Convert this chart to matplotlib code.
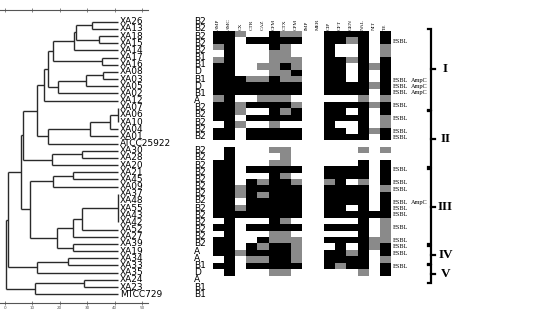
import matplotlib.pyplot as plt
from matplotlib.colors import ListedColormap

# strains in dendrogram order
leaves = ['XA26', 'XA13', 'XA18', 'XA15', 'XA14', 'XA17', 'XA16', 'XA08', 'XA03',
          'XA05', 'XA02', 'XA12', 'XA07', 'XA06', 'XA10', 'XA04', 'XA01', 'ATCC25922',
          'XA30', 'XA28', 'XA20', 'XA21', 'XA45', 'XA09', 'XA37', 'XA48', 'XA55',
          'XA43', 'XA42', 'XA52', 'XA27', 'XA39', 'XA19', 'XA34', 'XA33', 'XA35',
          'XA24', 'XA23', 'MTCC729']
phylogroups = ['B2', 'B2', 'B2', 'B2', 'B2', 'B1', 'B1', 'D', 'B1', 'D', 'B1', 'A',
               'B2', 'B2', 'B2', 'B2', 'B2', '', 'B2', 'B2', 'B2', 'B2', 'B2', 'B2',
               'B2', 'B2', 'B2', 'B2', 'B2', 'B2', 'B2', 'B2', 'A', 'A', 'B1', 'D',
               'A', 'B1', 'B1']
drugs = ['AMP', 'AMC', 'CX', 'CTR', 'CAZ', 'CFM', 'CTX', 'CPM', 'IMP', 'MER',
         'CIP', 'OFT', 'GEN', 'NAL', 'NIT', 'TE']

# 0 = susceptible, 1 = intermediate, 2 = resistant
profile = [
    [2, 2, 1, 0, 0, 2, 1, 1, 0, 0, 2, 2, 2, 2, 0, 2],  # XA26
    [2, 2, 0, 2, 2, 2, 2, 2, 0, 0, 2, 2, 1, 2, 0, 2],  # XA13
    [1, 2, 0, 0, 0, 2, 1, 0, 0, 0, 2, 0, 0, 2, 0, 1],  # XA18
    [0, 2, 0, 0, 0, 1, 1, 0, 0, 0, 2, 0, 0, 2, 0, 1],  # XA15
    [1, 2, 0, 0, 0, 1, 1, 1, 0, 0, 2, 2, 1, 2, 0, 2],  # XA14
    [2, 2, 0, 0, 1, 1, 2, 1, 0, 0, 2, 2, 0, 2, 1, 2],  # XA17
    [2, 2, 0, 0, 0, 1, 1, 2, 0, 0, 2, 2, 0, 2, 0, 2],  # XA16
    [2, 2, 2, 1, 1, 2, 1, 1, 0, 0, 2, 2, 0, 2, 0, 2],  # XA08
    [2, 2, 2, 2, 2, 2, 2, 2, 0, 0, 2, 2, 2, 2, 1, 2],  # XA03
    [2, 2, 2, 2, 2, 2, 2, 2, 0, 0, 2, 2, 2, 2, 0, 2],  # XA05
    [1, 2, 0, 0, 1, 1, 1, 0, 0, 0, 0, 0, 0, 1, 0, 1],  # XA02
    [2, 2, 1, 2, 2, 2, 2, 1, 0, 0, 2, 2, 2, 2, 1, 2],  # XA12
    [2, 2, 1, 0, 0, 2, 1, 2, 0, 0, 2, 2, 0, 2, 0, 2],  # XA07
    [2, 2, 0, 2, 2, 2, 2, 2, 0, 0, 2, 2, 2, 2, 0, 1],  # XA06
    [0, 2, 1, 0, 0, 1, 0, 0, 0, 0, 2, 0, 0, 2, 0, 1],  # XA10
    [2, 2, 0, 2, 2, 2, 2, 2, 0, 0, 2, 2, 0, 2, 1, 2],  # XA04
    [2, 2, 0, 2, 2, 2, 2, 2, 0, 0, 2, 2, 2, 2, 0, 2],  # XA01
    [0, 0, 0, 0, 0, 0, 0, 0, 0, 0, 0, 0, 0, 0, 0, 0],  # ATCC25922
    [0, 2, 0, 0, 0, 1, 1, 0, 0, 0, 0, 0, 0, 1, 0, 1],  # XA30
    [0, 2, 0, 0, 0, 0, 1, 0, 0, 0, 0, 0, 0, 0, 0, 0],  # XA28
    [2, 2, 0, 0, 0, 1, 1, 0, 0, 0, 0, 0, 0, 2, 0, 2],  # XA20
    [2, 2, 0, 2, 2, 2, 2, 2, 0, 0, 2, 2, 2, 2, 0, 2],  # XA21
    [2, 2, 0, 0, 0, 2, 1, 0, 0, 0, 2, 2, 2, 2, 0, 2],  # XA45
    [2, 2, 0, 2, 1, 2, 2, 1, 0, 0, 1, 2, 0, 1, 0, 2],  # XA09
    [2, 2, 1, 2, 2, 2, 2, 2, 0, 0, 2, 2, 2, 2, 0, 1],  # XA37
    [2, 2, 1, 2, 1, 2, 2, 2, 0, 0, 2, 2, 2, 2, 0, 2],  # XA48
    [2, 2, 0, 2, 2, 2, 2, 2, 0, 0, 2, 2, 2, 2, 0, 2],  # XA55
    [2, 2, 1, 2, 2, 2, 2, 2, 0, 0, 2, 2, 0, 2, 0, 2],  # XA43
    [2, 2, 2, 2, 2, 2, 2, 2, 0, 0, 2, 2, 2, 2, 2, 2],  # XA42
    [0, 2, 0, 0, 0, 2, 1, 0, 0, 0, 0, 0, 0, 2, 0, 1],  # XA52
    [2, 2, 0, 2, 2, 2, 2, 2, 0, 0, 2, 2, 2, 2, 0, 1],  # XA27
    [0, 2, 0, 0, 0, 1, 1, 0, 0, 0, 0, 0, 0, 2, 0, 1],  # XA39
    [2, 2, 0, 0, 2, 1, 1, 1, 0, 0, 2, 2, 2, 2, 1, 1],  # XA19
    [2, 2, 0, 2, 1, 2, 2, 1, 0, 0, 0, 2, 0, 2, 1, 2],  # XA34
    [2, 2, 1, 2, 2, 2, 2, 1, 0, 0, 2, 2, 1, 2, 0, 2],  # XA33
    [0, 2, 0, 1, 1, 2, 2, 1, 0, 0, 2, 2, 2, 2, 0, 1],  # XA35
    [2, 2, 0, 2, 2, 2, 2, 2, 0, 0, 2, 1, 2, 2, 0, 2],  # XA24
    [0, 2, 0, 0, 0, 1, 1, 0, 0, 0, 0, 0, 0, 1, 0, 2],  # XA23
    [0, 0, 0, 0, 0, 0, 0, 0, 0, 0, 0, 0, 0, 0, 0, 0],  # MTCC729
]

# dendrogram joins: (children, height); ids >= len(leaves) are earlier joins
merges = [
    ((0, 1), 31.6), ((2, 3), 34.4), ((39, 40), 25.9), ((41, 4), 25.2),
    ((5, 6), 35.3), ((42, 43), 17.6), ((7, 8), 35.9), ((45, 9), 29.6),
    ((46, 10), 19.5), ((44, 47), 15.7), ((48, 11), 14.1), ((12, 13, 14), 41.2),
    ((50, 15), 38.3), ((51, 16), 31.0), ((52, 17), 15.8), ((49, 53), 11.7),
    ((18, 19), 28.0), ((55, 20), 17.0), ((54, 56), 6.7), ((21, 22), 24.9),
    ((58, 23), 17.6), ((24, 25, 26, 27, 28), 41.2), ((60, 29), 28.0),
    ((61, 30), 24.7), ((31, 32), 24.9), ((62, 63), 18.9), ((59, 64), 9.1),
    ((57, 65), 5.7), ((33, 34), 23.1), ((67, 35), 11.8), ((66, 68), 1.2),
    ((36, 37), 28.9), ((70, 38), 10.9), ((69, 71), 0.4),
]
leaf_height = 41.2

esbl_rows = [1, 7, 8, 9, 11, 13, 15, 16, 21, 23, 24, 26, 27, 28, 30, 32, 33, 34, 36]
ampc_rows = [7, 8, 9, 26]
clusters = [('I', 0, 11), ('II', 12, 20), ('III', 21, 32), ('IV', 33, 35), ('V', 36, 38)]

W, H = 537, 315
fig = plt.figure(figsize=(W / 100, H / 100), dpi=100)

# ---- dendrogram ----
ax = fig.add_axes([0, 1 - 303 / H, 148 / W, 293 / H])
line_kw = dict(color='#2a2a2a', lw=1.0, solid_capstyle='butt')
pos = {i: (leaf_height, i) for i in range(len(leaves))}
for k, (kids, h) in enumerate(merges):
    ys = [pos[c][1] for c in kids]
    for c in kids:
        ax.plot([h, pos[c][0]], [pos[c][1], pos[c][1]], **line_kw)
    ax.plot([h, h], [min(ys), max(ys)], **line_kw)
    pos[len(leaves) + k] = (h, (min(ys) + max(ys)) / 2)

ax.set_xlim(-1.825, 52.19)
ax.set_ylim(39.23, -1.63)
for side in ['left', 'right']:
    ax.spines[side].set_visible(False)
for side in ['top', 'bottom']:
    ax.spines[side].set_color('#555555')
    ax.spines[side].set_linewidth(0.8)
ax.set_yticks([])
ax.set_xticks(range(0, 51, 10))
ax.tick_params(axis='x', top=True, labeltop=False, direction='inout', length=2.5,
               width=0.5, labelsize=3, pad=1, colors='#555555')
ax.patch.set_alpha(0)

for i, name in enumerate(leaves):
    ax.text(42.0, i, name, ha='left', va='center', fontsize=6.5, clip_on=False)
    ax.text(69.0, i, phylogroups[i], ha='left', va='center', fontsize=6.5,
            clip_on=False)

# ---- resistance heatmap ----
row_h = 7.15
col_w = 14.62
hm_top = 16.7
hx = fig.add_axes([212.7 / W, 1 - (hm_top + row_h * len(leaves)) / H,
                   col_w * len(drugs) / W, row_h * len(leaves) / H])
cmap = ListedColormap(['white', '#8a8a8a', 'black'])
hx.imshow(profile, cmap=cmap, vmin=0, vmax=2, aspect='auto', interpolation='nearest')
hx.axis('off')

serif = 'Liberation Serif'
for j, d in enumerate(drugs):
    hx.text(j, -0.8, d, rotation=90, ha='center', va='bottom', fontsize=3.8,
            family=serif)

for r in esbl_rows:
    hx.text(15.75, r, 'ESBL', ha='left', va='center', fontsize=4.5, family=serif)
for r in ampc_rows:
    hx.text(17.35, r, 'AmpC', ha='left', va='center', fontsize=4.5, family=serif)

# cluster brackets
bx, hook, tick = 19.22, 18.93, 19.6
for name, first, last in clusters:
    y0, y1 = first - 0.2, last + 0.6
    if first == 0:
        y0 = -0.9
    ym = (y0 + y1) / 2
    hx.plot([hook, bx, bx, hook], [y0, y0, y1, y1], color='black', lw=1.6,
            clip_on=False, solid_joinstyle='miter')
    hx.plot([bx, tick], [ym, ym], color='black', lw=1.6, clip_on=False)
    hx.text(20.5, ym, name, ha='center', va='center', fontsize=9.5,
            fontweight='bold', family=serif)

fig.savefig('out.png', dpi=100)
